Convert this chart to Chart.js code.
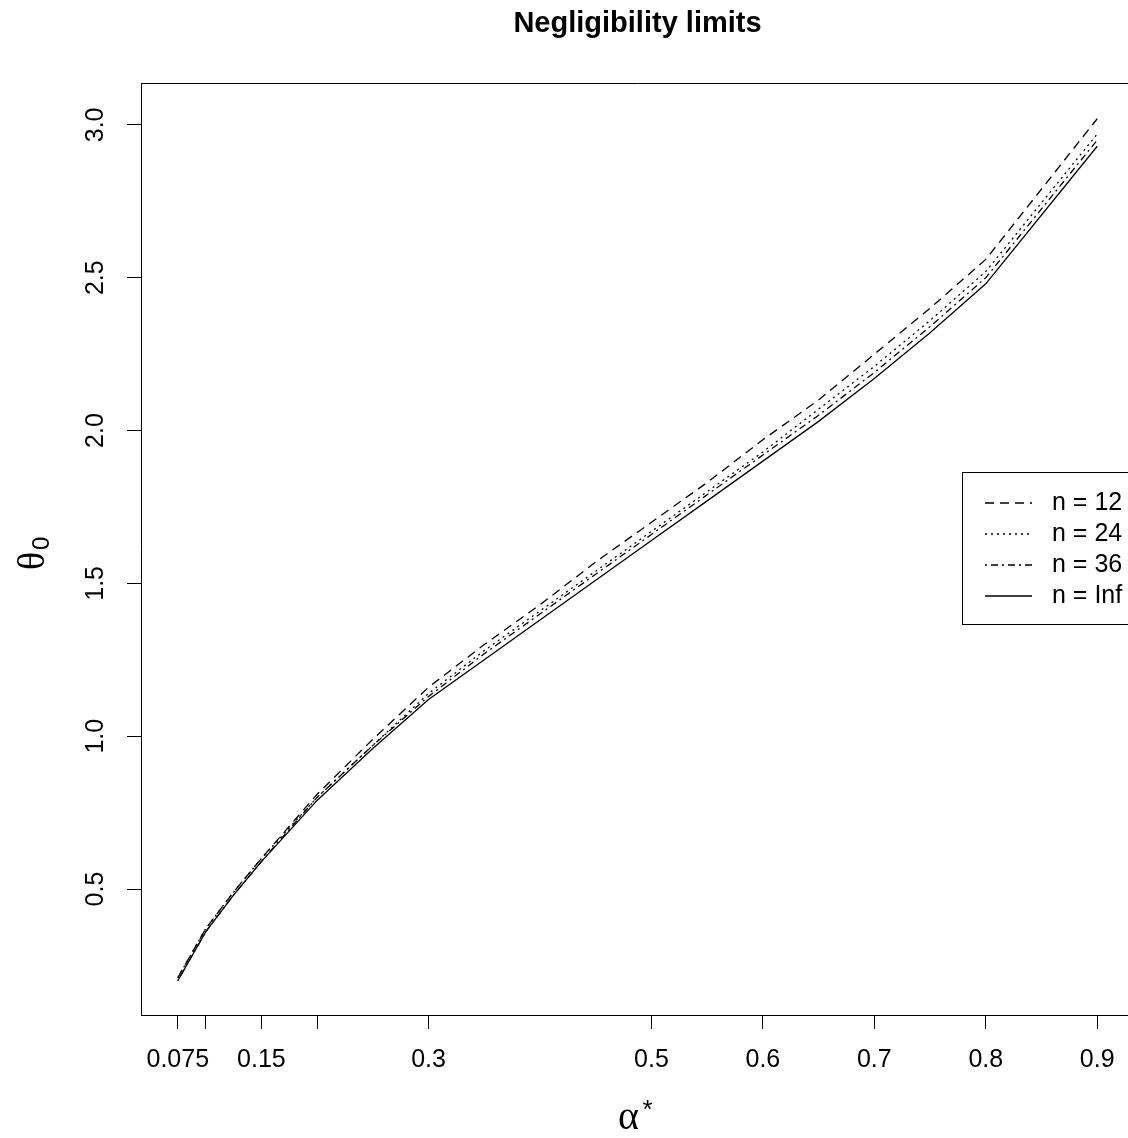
<!DOCTYPE html>
<html>
<head>
<meta charset="utf-8">
<script src="https://cdn.jsdelivr.net/npm/chart.js@4.4.0/dist/chart.umd.min.js"></script>
<style>
  html, body { margin: 0; padding: 0; background: #fff; overflow: hidden; width: 1128px; height: 1138px; }
  canvas { display: block; }
</style>
</head>
<body>
<canvas id="myChart" width="1136" height="1138"></canvas>
<script>
// alpha* grid and theta_0 limits
var alphaVals = [0.075, 0.1, 0.125, 0.15, 0.2, 0.25, 0.3, 0.35, 0.4, 0.45, 0.5, 0.55, 0.6, 0.65, 0.7, 0.75, 0.8, 0.9];
var theta12  = [0.21, 0.37, 0.49, 0.60, 0.81, 0.99, 1.16, 1.30, 1.43, 1.57, 1.70, 1.83, 1.97, 2.10, 2.25, 2.40, 2.56, 3.02];
var theta24  = [0.21, 0.37, 0.49, 0.60, 0.80, 0.97, 1.14, 1.28, 1.41, 1.54, 1.67, 1.80, 1.93, 2.07, 2.21, 2.36, 2.52, 2.97];
var theta36  = [0.20, 0.36, 0.48, 0.59, 0.80, 0.97, 1.13, 1.27, 1.40, 1.53, 1.66, 1.79, 1.92, 2.05, 2.19, 2.34, 2.50, 2.95];
var thetaInf = [0.20, 0.36, 0.48, 0.59, 0.79, 0.96, 1.12, 1.25, 1.38, 1.51, 1.64, 1.77, 1.90, 2.03, 2.17, 2.32, 2.48, 2.93];

var seriesNames = ['n = 12', 'n = 24', 'n = 36', 'n = Inf'];
var seriesDash = [[9, 6], [2, 4], [2, 4, 7, 4], []];

var xTickVals = [0.075, 0.1, 0.15, 0.2, 0.3, 0.5, 0.6, 0.7, 0.8, 0.9];
var xTickLabels = ['0.075', '', '0.15', '', '0.3', '0.5', '0.6', '0.7', '0.8', '0.9'];
var yTickVals = [0.5, 1.0, 1.5, 2.0, 2.5, 3.0];
var yTickLabels = ['0.5', '1.0', '1.5', '2.0', '2.5', '3.0'];

var FONT = '"Liberation Sans", Arial, sans-serif';

function pts(ys) {
    return alphaVals.map(function (a, i) { return { x: a, y: ys[i] }; });
}

var allSeries = [theta12, theta24, theta36, thetaInf];
var datasets = allSeries.map(function (ys, i) {
    return {
        label: seriesNames[i],
        data: pts(ys),
        borderColor: '#000',
        borderWidth: 1.3,
        borderDash: seriesDash[i],
        pointRadius: 0,
        tension: 0,
        fill: false
    };
});

var rDecor = {
    id: 'rDecor',
    afterDraw: function (chart) {
        var c = chart.ctx, a = chart.chartArea;
        var ys = chart.scales.y;
        c.save();
        // frame top and right
        c.strokeStyle = '#000';
        c.lineWidth = 1;
        c.beginPath();
        c.moveTo(a.left, a.top + 0.5);
        c.lineTo(a.right, a.top + 0.5);
        c.lineTo(a.right, a.bottom);
        c.stroke();

        // title
        c.fillStyle = '#000';
        c.font = 'bold 29px ' + FONT;
        c.textAlign = 'center';
        c.textBaseline = 'middle';
        c.fillText('Negligibility limits', (a.left + a.right) / 2, 24);

        // y tick labels, rotated like R
        c.font = '25px ' + FONT;
        yTickVals.forEach(function (v, i) {
            var py = ys.getPixelForValue(v);
            c.save();
            c.translate(96, py);
            c.rotate(-Math.PI / 2);
            c.textAlign = 'center';
            c.textBaseline = 'middle';
            c.fillText(yTickLabels[i], 0, 0);
            c.restore();
        });

        // x axis title alpha*
        c.textAlign = 'center';
        c.textBaseline = 'alphabetic';
        c.font = '40px "Liberation Serif", serif';
        var cx = (a.left + a.right) / 2 - 9;
        c.fillText('\u03B1', cx, 1129);
        c.font = '26px ' + FONT;
        c.fillText('*', cx + 19, 1118);

        // y axis title theta_0
        c.save();
        c.translate(44, 562);
        c.rotate(-Math.PI / 2);
        c.textAlign = 'left';
        c.font = '38px "Liberation Serif", serif';
        c.fillText('\u03B8', -8, 0);
        c.font = '24px ' + FONT;
        c.fillText('0', 12, 5);
        c.restore();

        // legend
        var lx = 962, ly = 472, lh = 152;
        c.lineWidth = 1;
        c.strokeRect(lx + 0.5, ly + 0.5, 300, lh);
        c.font = '25px ' + FONT;
        c.textAlign = 'left';
        c.textBaseline = 'middle';
        seriesNames.forEach(function (name, i) {
            var yy = 503 + i * 31;
            c.save();
            c.lineWidth = 1.3;
            c.setLineDash(seriesDash[i]);
            c.beginPath();
            c.moveTo(985, yy);
            c.lineTo(1032, yy);
            c.stroke();
            c.restore();
            c.fillText(name, 1052, yy);
        });
        c.restore();
    }
};

var ctx = document.getElementById('myChart').getContext('2d');
var myChart = new Chart(ctx, {
    type: 'line',
    data: { datasets: datasets },
    options: {
        responsive: false,
        animation: false,
        layout: { padding: { left: 0, top: 83, right: 2, bottom: 0 } },
        plugins: {
            legend: { display: false },
            tooltip: { enabled: false },
            title: { display: false }
        },
        scales: {
            x: {
                type: 'linear',
                min: 0.042,
                max: 0.933,
                afterBuildTicks: function (s) {
                    s.ticks = xTickVals.map(function (v) { return { value: v }; });
                },
                afterFit: function (s) { s.height = 123; },
                grid: { drawOnChartArea: false, drawTicks: true, tickLength: 14, color: '#000', tickWidth: 1 },
                border: { display: true, color: '#000', width: 1 },
                ticks: {
                    autoSkip: false,
                    maxRotation: 0,
                    minRotation: 0,
                    padding: 16,
                    color: '#000',
                    font: { size: 25, family: FONT },
                    callback: function (v, i) { return xTickLabels[i]; }
                }
            },
            y: {
                type: 'linear',
                min: 0.088,
                max: 3.137,
                afterBuildTicks: function (s) {
                    s.ticks = yTickVals.map(function (v) { return { value: v }; });
                },
                afterFit: function (s) { s.width = 141; },
                grid: { drawOnChartArea: false, drawTicks: true, tickLength: 14, color: '#000', tickWidth: 1 },
                border: { display: true, color: '#000', width: 1 },
                ticks: {
                    display: true,
                    color: 'rgba(0,0,0,0)',
                    font: { size: 25, family: FONT },
                    callback: function () { return ''; }
                }
            }
        }
    },
    plugins: [rDecor]
});
</script>
</body>
</html>
